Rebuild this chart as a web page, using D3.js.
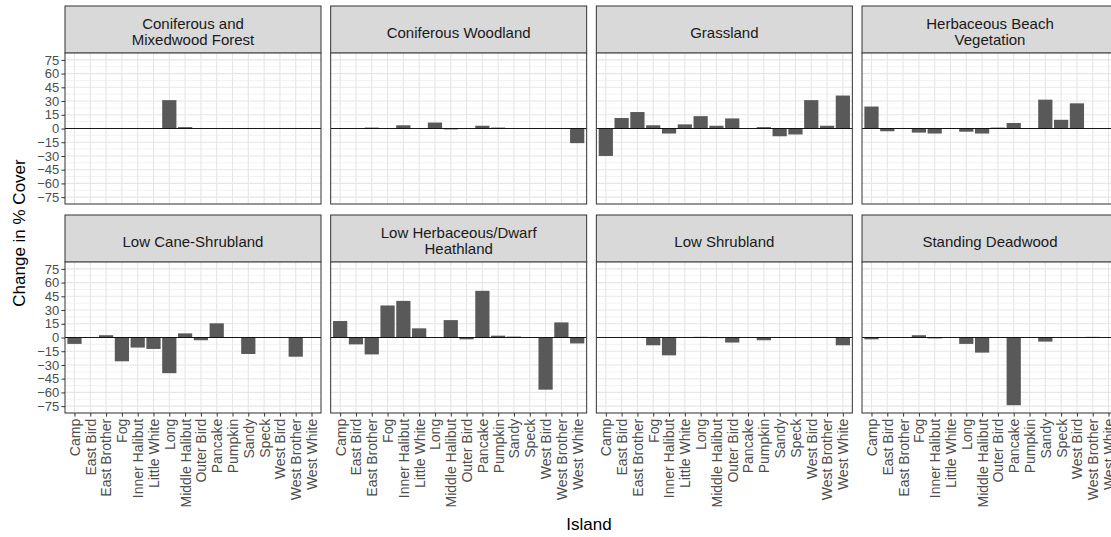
<!DOCTYPE html>
<meta charset="utf-8">
<style>
body { margin: 0; background: #fff; }
text { font-family: "Liberation Sans", Arial, sans-serif; }
.axis text { fill: #4d4d4d; font-size: 14px; }
.axis.yaxis text { font-size: 13px; }
.axis line { stroke: #333; }
.strip text { fill: #1a1a1a; font-size: 15px; }
</style>
<svg width="1111" height="537"></svg>
<script src="https://cdn.jsdelivr.net/npm/d3@7"></script>
<script>

var islands = ["Camp", "East Bird", "East Brother", "Fog", "Inner Halibut", "Little White", "Long",
  "Middle Halibut", "Outer Bird", "Pancake", "Pumpkin", "Sandy", "Speck", "West Bird", "West Brother", "West White"];

var yTicks = [75, 60, 45, 30, 15, 0, -15, -30, -45, -60, -75];

// one array per habitat, in island order
var coniferousMixedwood = [0, 0, 0, 0, 0, 0, 31, 1.5, 0, 0, 0, 0, 0, 0, 0, 0];
var coniferousWoodland  = [0, 0, 1, 0, 3.5, 0, 6.5, -1, 0, 3, 1, 0, 0, 0, 0, -16];
var grassland           = [-30, 11.5, 18, 3.5, -5.5, 4.5, 13.5, 3, 11, 0, 1.5, -8.5, -6.5, 31, 3, 36];
var herbaceousBeach     = [24, -3, -0.5, -4.5, -5.5, -0.5, -3.5, -5.5, 1, 6, 0.5, 31.5, 9.5, 27.5, 0, 0];
var lowCaneShrubland    = [-7, 0, 2.5, -26, -11, -12.5, -39, 4.5, -3, 15.5, -0.5, -18, 0, 0, -21, 0];
var lowHerbaceous       = [18, -7.5, -18.5, 35, 40, 10, 0, 19, -2, 51, 2, 1, -0.5, -57, 16.5, -6.5];
var lowShrubland        = [0, 0, 0, -8.5, -19.5, 0, 0.7, -0.7, -5.5, 0, -3, 0, 0, 0, 0, -8.5];
var standingDeadwood    = [-2, 0, 0, 2.5, -1, 0, -7, -16.5, 0, -74, 0, -4.5, 0, 0, 0.7, 0];

var panels = [
  {label: ["Coniferous and", "Mixedwood Forest"], values: coniferousMixedwood},
  {label: ["Coniferous Woodland"], values: coniferousWoodland},
  {label: ["Grassland"], values: grassland},
  {label: ["Herbaceous Beach", "Vegetation"], values: herbaceousBeach},
  {label: ["Low Cane-Shrubland"], values: lowCaneShrubland},
  {label: ["Low Herbaceous/Dwarf", "Heathland"], values: lowHerbaceous},
  {label: ["Low Shrubland"], values: lowShrubland},
  {label: ["Standing Deadwood"], values: standingDeadwood}
];

var svg = d3.select("svg");

var panelW = 256,
    panelH = 151,
    stripH = 47,
    left0 = 65,
    colStep = 265.67,
    top0 = 6,
    rowStep = 209;

var x = d3.scalePoint().domain(islands).range([0, panelW]).padding(0.6);
var bw = x.step() * 0.9;
var y = d3.scaleLinear().domain([-82.5, 82.5]).range([panelH, 0]);

var minorTicks = d3.range(-82.5, 83, 7.5).filter(function(v) { return v % 15 !== 0; });

panels.forEach(function(p, i) {
  var col = i % 4, row = Math.floor(i / 4);
  var px = left0 + col * colStep,
      sy = top0 + row * rowStep,
      py = sy + stripH;

  // strip
  var s = svg.append("g").attr("class", "strip").attr("transform", "translate(" + px + "," + sy + ")");
  s.append("rect").attr("width", panelW).attr("height", stripH)
      .attr("fill", "#d9d9d9").attr("stroke", "#333").attr("stroke-width", 1);
  var baselines = p.label.length == 2 ? [22.5, 39.3] : [31.5];
  p.label.forEach(function(t, k) {
    s.append("text").attr("x", panelW / 2).attr("y", baselines[k])
        .attr("text-anchor", "middle").text(t);
  });

  var g = svg.append("g").attr("transform", "translate(" + px + "," + py + ")");
  g.append("rect").attr("width", panelW).attr("height", panelH).attr("fill", "#fff");

  // grid
  g.selectAll(".minor").data(minorTicks).enter().append("line")
      .attr("x1", 0).attr("x2", panelW)
      .attr("y1", function(d) { return y(d); }).attr("y2", function(d) { return y(d); })
      .attr("stroke", "#ebebeb").attr("stroke-width", 0.6);
  g.selectAll(".hmajor").data(yTicks).enter().append("line")
      .attr("x1", 0).attr("x2", panelW)
      .attr("y1", function(d) { return y(d); }).attr("y2", function(d) { return y(d); })
      .attr("stroke", "#e6e6e6").attr("stroke-width", 1.1);
  g.selectAll(".vmajor").data(islands).enter().append("line")
      .attr("y1", 0).attr("y2", panelH)
      .attr("x1", function(d) { return x(d); }).attr("x2", function(d) { return x(d); })
      .attr("stroke", "#e6e6e6").attr("stroke-width", 1.1);

  // bars
  g.selectAll(".bar").data(p.values).enter().append("rect")
      .attr("x", function(d, j) { return x(islands[j]) - bw / 2; })
      .attr("width", bw)
      .attr("y", function(d) { return y(Math.max(0, d)); })
      .attr("height", function(d) { return Math.abs(y(d) - y(0)); })
      .attr("fill", "#595959");

  // zero line
  g.append("line").attr("x1", 0).attr("x2", panelW)
      .attr("y1", y(0)).attr("y2", y(0))
      .attr("stroke", "#000").attr("stroke-width", 0.9);

  g.append("rect").attr("width", panelW).attr("height", panelH)
      .attr("fill", "none").attr("stroke", "#333").attr("stroke-width", 1);

  if (col == 0) {
    var ya = g.append("g").attr("class", "axis yaxis")
        .call(d3.axisLeft(y).tickValues(yTicks).tickSize(3.6).tickPadding(2.2));
    ya.select(".domain").remove();
    ya.selectAll("text").attr("fill", null);
    ya.selectAll("line").attr("stroke", null);
  }

  if (row == 1) {
    var xa = g.append("g").attr("class", "axis").attr("transform", "translate(0," + panelH + ")")
        .call(d3.axisBottom(x).tickSize(3.6));
    xa.select(".domain").remove();
    xa.selectAll("line").attr("stroke", null);
    xa.selectAll("text").attr("fill", null)
        .attr("transform", "rotate(-90)")
        .attr("text-anchor", "end")
        .attr("x", -5.8).attr("y", 0).attr("dy", "0.35em");
  }
});

svg.selectAll(".axis text").style("font-family", "'Liberation Sans', Arial, sans-serif");

// axis titles
svg.append("text").attr("x", 589).attr("y", 530)
    .attr("text-anchor", "middle").style("font-size", "17px").attr("fill", "#000")
    .text("Island");
svg.append("text").attr("transform", "translate(25,233) rotate(-90)")
    .attr("text-anchor", "middle").style("font-size", "17px").attr("fill", "#000")
    .text("Change in % Cover");

</script>
